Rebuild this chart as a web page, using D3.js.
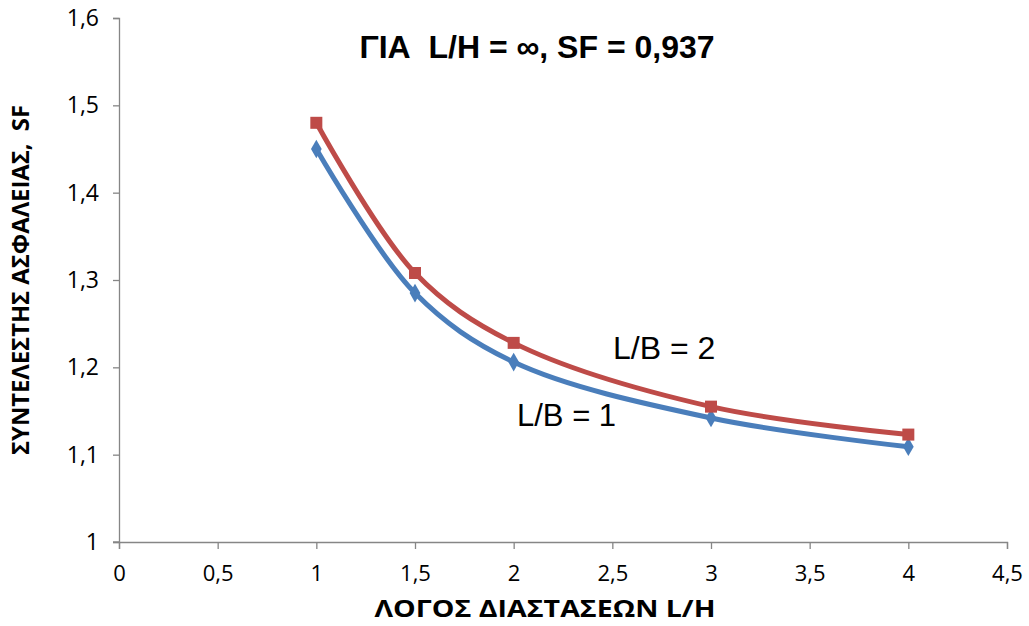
<!DOCTYPE html>
<html><head><meta charset="utf-8">
<script src="https://cdn.jsdelivr.net/npm/d3@7"></script>
<style>body{margin:0;background:#fff}svg{display:block}text{white-space:pre}</style>
</head><body>
<script>
const xValues = [1, 1.5, 2, 3, 4];
const seriesLB1 = [1.450, 1.285, 1.206, 1.142, 1.109];
const seriesLB2 = [1.480, 1.308, 1.228, 1.155, 1.123];
const xTicks = [0, 0.5, 1, 1.5, 2, 2.5, 3, 3.5, 4, 4.5];
const yTicks = [1, 1.1, 1.2, 1.3, 1.4, 1.5, 1.6];
const title = "ΓΙΑ  L/H = ∞, SF = 0,937";
const xTitle = "ΛΟΓΟΣ ΔΙΑΣΤΑΣΕΩΝ L/H";
const yTitle = "ΣΥΝΤΕΛΕΣΤΗΣ ΑΣΦΑΛΕΙΑΣ,  SF";

const W = 1029, H = 626;
const svg = d3.select("body").append("svg").attr("width", W).attr("height", H);
const x = d3.scaleLinear().domain([0, 4.5]).range([119, 1007]);
const y = d3.scaleLinear().domain([1, 1.6]).range([542, 18]);
const fmt = d => String(+d.toFixed(1)).replace(".", ",");
const axisColor = "#868686";
const tickFont = "'Open Sans', sans-serif";
const arial = "'Liberation Sans', Arial, sans-serif";

// Y axis
const ya = svg.append("g").attr("transform", `translate(${x(0)},0)`)
  .call(d3.axisLeft(y).tickValues(yTicks).tickSize(6).tickPadding(14).tickFormat(fmt));
ya.attr("font-size", null).attr("font-family", null);
ya.select(".domain").attr("stroke", axisColor).attr("stroke-width", 1.3);
ya.selectAll(".tick line").attr("stroke", axisColor).attr("stroke-width", 1.3);
ya.selectAll(".tick text").style("font-family", tickFont).style("font-size", "23px").attr("fill", "#000");

// X axis
const xa = svg.append("g").attr("transform", `translate(0,${y(1)})`)
  .call(d3.axisBottom(x).tickValues(xTicks).tickSize(7).tickPadding(16).tickFormat(fmt));
xa.attr("font-size", null).attr("font-family", null);
xa.select(".domain").attr("stroke", axisColor).attr("stroke-width", 1.3);
xa.selectAll(".tick line").attr("stroke", axisColor).attr("stroke-width", 1.3);
xa.selectAll(".tick text").style("font-family", tickFont).style("font-size", "22px").attr("fill", "#000");
svg.append("line").attr("x1", x(0) - 6).attr("x2", x(0)).attr("y1", y(1)).attr("y2", y(1))
  .attr("stroke", axisColor).attr("stroke-width", 1.3);

const line = d3.line().x(d => x(d[0])).y(d => y(d[1])).curve(d3.curveCatmullRom.alpha(0.5));
const blue = "#4A7EBB", red = "#BE4B48";
const d1 = xValues.map((v, i) => [v, seriesLB1[i]]);
const d2 = xValues.map((v, i) => [v, seriesLB2[i]]);

svg.append("path").datum(d1).attr("d", line).attr("fill", "none").attr("stroke", blue).attr("stroke-width", 5).attr("stroke-linejoin", "round");
svg.append("path").datum(d2).attr("d", line).attr("fill", "none").attr("stroke", red).attr("stroke-width", 5).attr("stroke-linejoin", "round");

svg.selectAll(".m1").data(d1).enter().append("path")
  .attr("transform", d => `translate(${x(d[0])},${y(d[1])})`)
  .attr("d", d3.symbol(d3.symbolDiamond, 100)).attr("fill", blue);
svg.selectAll(".m2").data(d2).enter().append("rect")
  .attr("x", d => x(d[0]) - 6).attr("y", d => y(d[1]) - 6)
  .attr("width", 12).attr("height", 12).attr("fill", red);

// labels
svg.append("text").attr("x", 613).attr("y", 359).text("L/B = 2")
  .style("font-family", arial).style("font-size", "32px");
svg.append("text").attr("x", 517).attr("y", 426).text("L/B = 1")
  .style("font-family", arial).style("font-size", "31px");

// title
svg.append("text").attr("x", 537).attr("y", 58).attr("text-anchor", "middle").text(title)
  .style("font-family", arial).style("font-weight", "bold").style("font-size", "32px");

// axis titles
svg.append("text").attr("x", 545).attr("y", 617).attr("text-anchor", "middle").text(xTitle)
  .attr("textLength", 341).attr("lengthAdjust", "spacingAndGlyphs")
  .style("font-family", tickFont).style("font-weight", "bold").style("font-size", "23px");
svg.append("text").attr("transform", "translate(29,280) rotate(-90)").attr("text-anchor", "middle").text(yTitle)
  .attr("textLength", 350).attr("lengthAdjust", "spacingAndGlyphs")
  .style("font-family", tickFont).style("font-weight", "bold").style("font-size", "23px");
</script>
</body></html>
